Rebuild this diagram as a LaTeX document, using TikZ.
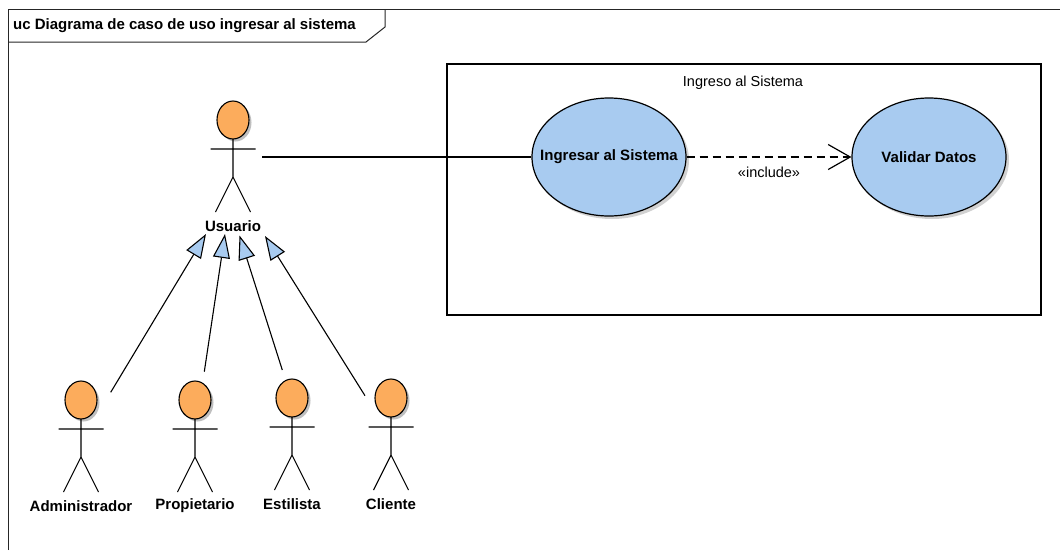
\documentclass[tikz,border=0pt]{standalone}
\usepackage{fontspec}
\setmainfont{Liberation Sans}
\usetikzlibrary{arrows.meta,shapes.geometric,shadows}
\definecolor{ucblue}{RGB}{168,203,240}
\definecolor{ucorange}{RGB}{252,172,92}
\tikzset{
  lbl/.style={font=\fontsize{15}{18}\selectfont\bfseries, inner sep=1pt},
  ucase/.style={ellipse, draw, line width=1.2pt, fill=ucblue, minimum width=154pt, minimum height=118pt, inner sep=0pt,
     font=\fontsize{15}{18}\selectfont\bfseries,
     drop shadow={shadow xshift=3pt, shadow yshift=-3pt, fill=black!30, opacity=0.6}},
  gen/.style={line width=1.1pt, -{Triangle[length=24pt, width=17pt, fill=ucblue, line width=1.1pt]}},
  assoc/.style={line width=1.2pt},
  incl/.style={line width=1.2pt, dash pattern=on 8pt off 5pt, -{Straight Barb[length=22pt, width=25pt, line width=1.2pt]}},
  thin frame/.style={line width=1pt, draw=black!85}
}
\newcommand\ucactor[4]{%
  \fill[black!25] (#2+2.5,#3+2.5) ellipse [x radius=16, y radius=19];
  \draw[fill=ucorange, line width=1.1pt] (#2,#3) ellipse [x radius=16, y radius=19];
  \draw[line width=1.1pt] (#2-22.5,#3+29) -- (#2+22.5,#3+29)
     (#2,#3+19) -- (#2,#3+57) -- (#2-17.5,#3+92) (#2,#3+57) -- (#2+17.5,#3+92);
  \node[lbl] (#1) at (#2,#3+106) {#4};
}
\begin{document}
\begin{tikzpicture}[x=1pt, y=-1pt]
\useasboundingbox (0,0) rectangle (1060,550);
% frame
\draw[thin frame] (8,550) -- (8,9) -- (1060,9);
\draw[thin frame] (8,42) -- (366,42) -- (385,27) -- (385,9);
\node[lbl, anchor=west] (title) at (12,26) {uc Diagrama de caso de uso ingresar al sistema};
% system boundary
\draw[line width=1.1pt] (447,64) rectangle (1041,315);
\node[font=\fontsize{14.5}{17}\selectfont] (sysname) at (743,83) {Ingreso al Sistema};
% use cases
\node[ucase] (ing) at (609,157) {\makebox[0pt]{Ingresar al Sistema}};
\node[ucase] (val) at (929,157) {\makebox[0pt]{Validar Datos}};
% actors
\ucactor{usuario}{233}{120}{Usuario}
\ucactor{admin}{81}{400}{Administrador}
\ucactor{prop}{195}{400}{Propietario}
\ucactor{esti}{292}{398}{Estilista}
\ucactor{cli}{391}{398}{Cliente}
% connector end points
\coordinate (uarm) at (262,157);
\coordinate (t1) at (206,234);
\coordinate (t2) at (225,234);
\coordinate (t3) at (239.5,235.5);
\coordinate (t4) at (265,236);
\coordinate (a1) at (110.7,392.3);
\coordinate (a2) at (204.3,371.7);
\coordinate (a3) at (282.3,370);
\coordinate (a4) at (365,395.7);
% connectors
\draw[assoc] (uarm) -- (ing.west);
\draw[incl] (ing.east) -- (val.west)
   node[midway, below=6pt, font=\fontsize{14.5}{17}\selectfont] (inclabel) {«include»};
\draw[gen] (a1) -- (t1);
\draw[gen] (a2) -- (t2);
\draw[gen] (a3) -- (t3);
\draw[gen] (a4) -- (t4);
\end{tikzpicture}
\end{document}
